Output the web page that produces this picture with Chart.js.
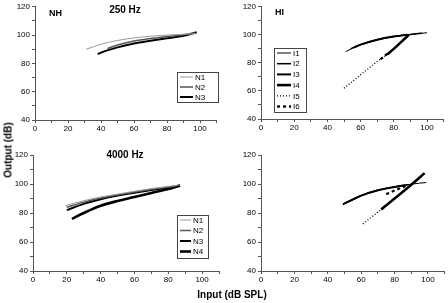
<!DOCTYPE html>
<html><head><meta charset="utf-8">
<script src="https://cdn.jsdelivr.net/npm/chart.js@4.4.0/dist/chart.umd.min.js"></script>
<style>
html,body{margin:0;padding:0;background:#fff;width:448px;height:303px;overflow:hidden;position:relative;font-family:"Liberation Sans",Arial,sans-serif}
canvas{position:absolute}
.t{position:absolute;font-weight:bold;font-size:10px;color:#000;white-space:nowrap}
</style></head><body>
<canvas id="c1" width="224" height="140" style="left:0;top:0"></canvas>
<canvas id="c2" width="224" height="140" style="left:224px;top:0"></canvas>
<canvas id="c3" width="224" height="150" style="left:0;top:140px"></canvas>
<canvas id="c4" width="224" height="150" style="left:224px;top:140px"></canvas>
<div class="t" style="left:8px;top:150px;transform:translate(-50%,-50%) rotate(-90deg)">Output (dB)</div>
<div class="t" style="left:232px;top:294px;transform:translate(-50%,-50%)">Input (dB SPL)</div>
<script>
// ---- data: [input dB SPL, output dB] ----
const xTicks = [0, 20, 40, 60, 80, 100];
const yTicks = [40, 60, 80, 100, 120];
// 250 Hz, normal hearing
const NH250_N1 = [[31,90],[40,93.5],[50,96.2],[60,98],[70,99.2],[80,100],[90,100.6],[97,101]];
const NH250_N2 = [[44,90.5],[50,93],[60,95.8],[70,97.6],[80,99],[90,100.3],[97,101.5]];
const NH250_N3 = [[38,86.5],[40,87.6],[50,91.3],[60,94],[70,96],[80,97.8],[90,99.5],[98,102]];
// 250 Hz, hearing impaired
const HI250_I1 = [[51,88],[60,93],[70,96.5],[80,98.8],[90,100.3],[100,101.5]];
const HI250_I2 = [[54,90],[60,93],[70,96.5],[80,98.8],[90,100.3],[97,101.2]];
const HI250_I3 = [[56,91],[60,93],[70,96.5],[80,98.8],[88,100]];
const HI250_I4 = [[76,86],[80,90],[85,95.5],[89,100]];
const HI250_I5 = [[50,62],[60,71.5],[70,81],[77,87]];
const HI250_I6 = [[72,82.5],[76,86.5]];
// 4000 Hz, normal hearing
const NH4k_N1 = [[19,85],[30,88.5],[40,91],[50,93],[60,95],[70,96.8],[80,98.3],[85,99]];
const NH4k_N2 = [[20,84],[30,87.5],[40,90.3],[50,92.5],[60,94.5],[70,96.3],[80,98],[87,99.3]];
const NH4k_N3 = [[20,82],[30,86.3],[40,89.5],[50,92],[60,94],[70,95.8],[80,97.5],[86,98.5]];
const NH4k_N4 = [[23,76],[30,80],[40,85],[50,88.3],[60,91],[70,93.8],[80,96.5],[87,99]];
// 4000 Hz, hearing impaired
const HI4k_I1 = [[55,89.5],[60,92],[70,95.7],[80,98],[88,99.6],[95,100.6],[99,101]];
const HI4k_I2 = [[50,86.5],[60,92],[70,95.7],[80,98],[88,99.5]];
const HI4k_I3 = [[49,86],[55,89.3],[60,92],[70,95.7],[80,98],[86,99.2]];
const HI4k_I4 = [[72,82.5],[80,90],[90,99.5],[98,107.5]];
const HI4k_I5 = [[61,72.5],[66,77],[72,82.5]];
const HI4k_I6 = [[75,93],[80,95.5],[88,99.3]];

const styles = {
  N1:{c:'#9a9a9a',w:1}, N2:{c:'#555',w:1.5}, N3:{c:'#000',w:2}, N4:{c:'#000',w:2.6},
  I1:{c:'#000',w:1}, I2:{c:'#000',w:1.5}, I3:{c:'#000',w:2}, I4:{c:'#000',w:2.6},
  I5:{c:'#000',w:1.3,d:[1,2]}, I6:{c:'#000',w:2.3,d:[3,3]}
};
function ds(label, arr){
  const s = styles[label];
  return {label, data: arr.map(p=>({x:p[0],y:p[1]})), borderColor:s.c, borderWidth:s.w,
    borderDash:s.d||[], pointRadius:0, fill:false, cubicInterpolationMode:'monotone', borderCapStyle:'butt'};
}
const deco = {
  id:'deco',
  afterDraw(chart, args, o){
    const ctx = chart.ctx;
    ctx.save();
    (o.titles||[]).forEach(t=>{
      ctx.font = 'bold '+t.size+'px "Liberation Sans", Arial, sans-serif';
      ctx.fillStyle='#000'; ctx.textAlign=t.align||'left'; ctx.textBaseline='middle';
      ctx.fillText(t.text, t.x, t.y);
    });
    const L = o.legend;
    if (L){
      ctx.strokeStyle='#444'; ctx.lineWidth=1; ctx.setLineDash([]);
      ctx.strokeRect(L.x+0.5, L.y+0.5, L.w, L.h);
      chart.data.datasets.forEach((d,i)=>{
        const y = L.y0 + i*L.dy;
        ctx.strokeStyle=d.borderColor; ctx.lineWidth=d.borderWidth; ctx.setLineDash(d.borderDash);
        ctx.beginPath(); ctx.moveTo(L.x+3, y); ctx.lineTo(L.x+3+L.len, y); ctx.stroke();
        ctx.setLineDash([]);
        ctx.font='8px "Liberation Sans", Arial, sans-serif'; ctx.fillStyle='#000';
        ctx.textAlign='left'; ctx.textBaseline='middle';
        ctx.fillText(d.label, L.x+5+L.len, y+0.5);
      });
    }
    ctx.restore();
  }
};
function make(id, datasets, g){
  new Chart(document.getElementById(id), {
    type:'line', data:{datasets}, plugins:[deco],
    options:{
      responsive:false, animation:false, events:[],
      layout:{padding:{top:g.top, right:g.right, left:0, bottom:0}},
      plugins:{legend:{display:false}, tooltip:{enabled:false}, deco:g.deco},
      scales:{
        x:{type:'linear', min:0, max:110,
           afterFit(s){s.height=g.xh;},
           border:{color:'#555', width:1},
           grid:{drawOnChartArea:false, color:'#555', tickLength:3, tickWidth:1},
           ticks:{stepSize:10, autoSkip:false, maxRotation:0, padding:1, color:'#000',
             font:{size:8, family:'"Liberation Sans", Arial, sans-serif'},
             callback:v=> xTicks.includes(v) ? String(v) : ''}},
        y:{type:'linear', min:40, max:120,
           afterFit(s){s.width=g.yw;},
           border:{color:'#555', width:1},
           grid:{drawOnChartArea:false, color:'#555', tickLength:3, tickWidth:1},
           ticks:{stepSize:10, autoSkip:false, padding:2, color:'#000',
             font:{size:8, family:'"Liberation Sans", Arial, sans-serif'},
             callback:v=> yTicks.includes(v) ? String(v) : ''}}
      }
    }
  });
}
make('c1', [ds('N1',NH250_N1), ds('N2',NH250_N2), ds('N3',NH250_N3)],
  {top:6, right:7.5, yw:35, xh:20, deco:{
    titles:[{text:'NH',x:49,y:14,size:9},{text:'250 Hz',x:125,y:10,size:10,align:'center'}],
    legend:{x:177,y:72,w:41,h:30,y0:77,dy:10,len:13}}});
make('c2', [ds('I1',HI250_I1), ds('I2',HI250_I2), ds('I3',HI250_I3), ds('I4',HI250_I4), ds('I5',HI250_I5), ds('I6',HI250_I6)],
  {top:5, right:4.4, yw:37, xh:21, deco:{
    titles:[{text:'HI',x:51,y:13,size:9}],
    legend:{x:50,y:48,w:32,h:64,y0:53,dy:10.7,len:14}}});
make('c3', [ds('N1',NH4k_N1), ds('N2',NH4k_N2), ds('N3',NH4k_N3), ds('N4',NH4k_N4)],
  {top:15, right:5, yw:33, xh:19, deco:{
    titles:[{text:'4000 Hz',x:125,y:15,size:10,align:'center'}],
    legend:{x:177,y:75,w:31,h:43,y0:80,dy:10.5,len:11}}});
make('c4', [ds('I1',HI4k_I1), ds('I2',HI4k_I2), ds('I3',HI4k_I3), ds('I4',HI4k_I4), ds('I5',HI4k_I5), ds('I6',HI4k_I6)],
  {top:15, right:3.3, yw:37, xh:19, deco:{}});
</script>
</body></html>
